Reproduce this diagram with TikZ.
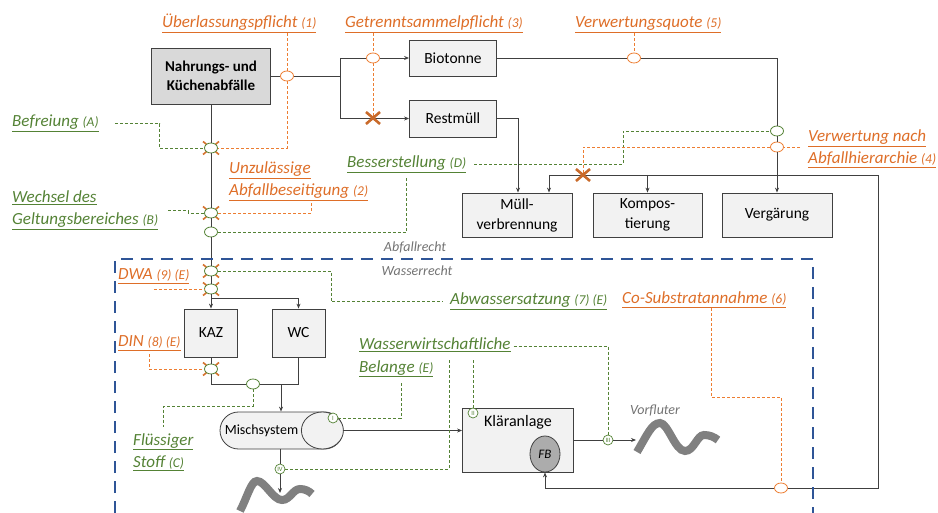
\documentclass[tikz,border=0pt]{standalone}
\usepackage{fontspec}
\setmainfont{Carlito}
\usetikzlibrary{shapes,arrows.meta,positioning,backgrounds}

\definecolor{orng}{RGB}{222,110,40}
\definecolor{orngline}{RGB}{237,125,49}
\definecolor{grn}{RGB}{84,130,53}
\definecolor{blu}{RGB}{47,85,151}
\definecolor{lin}{RGB}{64,64,64}

\newcommand{\nr}[1]{{\fontsize{13.5}{13.5}\selectfont #1}}

\tikzset{
  box/.style={draw=lin, fill=gray!10, line width=0.8pt, minimum width=87pt, minimum height=36pt, inner sep=2pt, align=center, font=\fontsize{15.5}{20}\selectfont},
  conn/.style={draw=lin, line width=0.9pt},
  arr/.style={conn, -{Stealth[length=5pt,width=4pt]}},
  grdash/.style={draw=grn, densely dashed, line width=0.7pt},
  ordash/.style={draw=orngline, densely dashed, line width=0.7pt},
  gate/.style={ellipse, draw=grn, fill=white, line width=0.8pt, minimum width=13pt, minimum height=10pt, inner sep=0pt},
  ogate/.style={gate, draw=orngline},
  xtick/.style={draw=orngline!90!black, line width=1.6pt},
  bigx/.style={draw=orngline!85!black, line width=2.6pt},
  rom/.style={ellipse, draw=grn, fill=white, text=grn, line width=0.7pt, inner sep=0.8pt, minimum size=10pt, font=\fontsize{6.5}{6.5}\selectfont},
  lab/.style={inner sep=0pt, align=left, font=\fontsize{17}{22}\selectfont\itshape},
  orlab/.style={lab, text=orng},
  grlab/.style={lab, text=grn},
  rechtlab/.style={inner sep=0pt, text=black!55, font=\fontsize{14}{14}\selectfont\itshape},
  wave/.style={draw=gray, line width=8pt},
}

\begin{document}
\begin{tikzpicture}[x=1pt, y=-1pt]
  \useasboundingbox (0,0) rectangle (938,513);

  % Boxes
  \node[box, fill=gray!30, font=\fontsize{15}{19}\selectfont\bfseries, minimum width=119pt, minimum height=56pt] (food) at (211,76) {Nahrungs- und\\Küchenabfälle};
  \node[box] (bio) at (453,58) {Biotonne};
  \node[box, minimum height=37pt] (rest) at (453,118.5) {Restmüll};
  \node[box, minimum width=110pt, minimum height=44pt] (mva) at (517,215) {Müll-\\verbrennung};
  \node[box, minimum width=109pt, minimum height=44pt] (kompost) at (647.5,215) {Kompos-\\tierung};
  \node[box, minimum width=110pt, minimum height=44pt] (vergaer) at (777,215) {Vergärung};
  \node[box, minimum width=53pt, minimum height=48pt] (kaz) at (211,333) {KAZ};
  \node[box, minimum width=53pt, minimum height=48pt] (wc) at (298.5,333) {WC};
  \node[rounded rectangle, draw=lin, fill=gray!10, line width=0.8pt, minimum width=123pt, minimum height=37pt, inner sep=0pt,
        label={[xshift=-20pt, font=\fontsize{14}{14}\selectfont]center:Mischsystem}] (misch) at (281.5,430.5) {};
  \draw[draw=lin, fill=gray!10, line width=0.8pt] ([xshift=-21pt]misch.east) ellipse [x radius=21pt, y radius=18.5pt];
  \node[box, minimum width=111pt, minimum height=64pt, label={[anchor=north, yshift=-4pt, font=\fontsize{16}{16}\selectfont]north:Kläranlage}] (klaer) at (518,440) {};
  \node[ellipse, draw=lin, fill=gray!65, line width=0.8pt, minimum width=30pt, minimum height=36pt, inner sep=0pt, font=\fontsize{13}{13}\selectfont\itshape] (fb) at (545,454) {FB};

  % Gates
  \node[gate] (g1) at (211,148) {};
  \node[gate] (g2) at (211,213) {};
  \node[gate] (g3) at (211,232) {};
  \node[gate] (g4) at (211,271) {};
  \node[gate] (g5) at (211,289) {};
  \node[gate] (g6) at (211,369) {};
  \node[gate] (gC) at (253,384) {};
  \node[gate] (gD) at (777,131) {};
  \node[ogate] (ol1) at (287,76) {};
  \node[ogate] (ol3) at (373,58) {};
  \node[ogate] (ol5) at (634,58) {};
  \node[ogate] (ol4) at (777,147) {};
  \node[ogate] (ol6) at (781,488) {};
  \node[rom] (rI) at (333,418) {I};
  \node[rom] (rII) at (473,413) {II};
  \node[rom] (rIII) at (608,440) {III};
  \node[rom] (rIV) at (280,469) {IV};
  \coordinate (x3) at (373,118);
  \coordinate (x4) at (583,175);

  % Labels
  \node[orlab, anchor=base west] (l1) at (162,28) {\underline{Überlassungspflicht \nr{(1)}}};
  \node[orlab, anchor=base west] (l3) at (345,28) {\underline{Getrenntsammelpflicht \nr{(3)}}};
  \node[orlab, anchor=base west] (l5) at (575,28) {\underline{Verwertungsquote \nr{(5)}}};
  \node[grlab, anchor=base west] (lA) at (12,127) {\underline{Befreiung \nr{(A)}}};
  \node[orlab, anchor=base west] (l2) at (229,196) {\underline{Unzulässige}\\\underline{Abfallbeseitigung \nr{(2)}}};
  \node[grlab, anchor=base west] (lD) at (347,168) {\underline{Besserstellung \nr{(D)}}};
  \node[grlab, anchor=base west] (lB) at (12,225) {\underline{Wechsel des}\\\underline{Geltungsbereiches \nr{(B)}}};
  \node[orlab, anchor=base west] (l4) at (808,164) {\underline{Verwertung nach}\\\underline{Abfallhierarchie \nr{(4)}}};
  \node[rechtlab] (abf) at (415,247) {Abfallrecht};
  \node[rechtlab] (was) at (417,271) {Wasserrecht};
  \node[orlab, anchor=base west] (l9) at (118,280) {\underline{DWA \nr{(9) (E)}}};
  \node[grlab, anchor=base west] (l7) at (450,305) {\underline{Abwassersatzung \nr{(7) (E)}}};
  \node[orlab, anchor=base west] (l6) at (622,304) {\underline{Co-Substratannahme \nr{(6)}}};
  \node[orlab, anchor=base west] (l8) at (118,347) {\underline{DIN \nr{(8) (E)}}};
  \node[grlab, anchor=base west] (lE) at (359,372) {\underline{Wasserwirtschaftliche}\\\underline{Belange \nr{(E)}}};
  \node[grlab, anchor=base west] (lC) at (133,467) {\underline{Flüssiger}\\\underline{Stoff \nr{(C)}}};
  \node[rechtlab] (vf) at (655,411) {Vorfluter};

  % Waste flow
  \coordinate (split) at (340,76);
  \draw[conn] (food) -- (ol1) -- (split);
  \draw[conn] (split |- bio) -- (split |- rest);
  \draw[conn] (split |- bio) -- (ol3);
  \draw[arr] (ol3) -- (bio);
  \draw[arr] (split |- rest) -- (rest);
  \draw[conn] (bio) -- (ol5);
  \draw[conn] (ol5) -- (ol5 -| vergaer) -- (gD);
  \draw[conn] (gD) -- (ol4);
  \draw[arr] (ol4) -- (vergaer);
  \draw[arr] (rest.east) -| ([xshift=1pt]mva.north);
  \coordinate (mvain) at (549,175);
  \coordinate (ret) at (878,175);
  \coordinate (retlo) at (878,488);
  \draw[arr] (mvain) -- (mvain |- mva.north);
  \draw[arr] (kompost.north |- mvain) -- (kompost.north);
  \draw[conn] (mvain) -- (ret) -- (retlo) -- (ol6);
  \draw[arr] (ol6) -| (fb.south);

  % Water flow
  \draw[conn] (food) -- (g1) -- (g2) -- (g3) -- (g4) -- (g5);
  \coordinate (kazsplit) at (211,298);
  \draw[arr] (g5) -- (kaz);
  \draw[arr] (kazsplit) -| (wc);
  \draw[conn] (kaz) -- (g6);
  \draw[conn] (g6) |- (gC);
  \draw[conn] (gC) -| (wc);
  \coordinate (merge) at (281,384);
  \draw[arr] (merge) -- (merge |- misch.north);
  \draw[conn] (misch.south -| rIV) -- (rIV);
  \coordinate (river) at (280,493);
  \draw[arr] (rIV) -- (river);
  \draw[arr] (misch.east) -- (misch.east -| klaer.west);
  \draw[conn] (klaer.east |- rIII) -- (rIII);
  \coordinate (vorfl) at (636,440);
  \draw[arr] (rIII) -- (vorfl);

  % Legal links
  \coordinate (dbend) at (623,131);
  \coordinate (b7) at (331,271);
  \coordinate (cturn) at (253,406);
  \coordinate (eI) at (401,381);
  \coordinate (eII) at (473,358);
  \coordinate (eIV) at (449,358);
  \coordinate (b6) at (711,397);
  \draw[ordash] (l1.south -| ol1) -- (ol1);
  \draw[ordash] (ol1) |- (g1);
  \draw[grdash] ([xshift=16pt]lA.east) -- ++(45,0) |- (g1);
  \draw[ordash] (l3.south -| ol3) -- (ol3);
  \draw[ordash] (ol3) -- (x3);
  \draw[ordash] (l5.south -| ol5) -- (ol5);
  \draw[ordash] ([xshift=12.5pt,yshift=-2pt]l2.south) |- (g2);
  \draw[grdash] ([xshift=10pt]lB.east) -- ++(20,0) |- (g2);
  \draw[grdash] (g3) -| ([yshift=-3pt]lD.south);
  \draw[grdash] ([xshift=8pt]lD.east) -| (dbend) -- (gD);
  \draw[ordash] ([xshift=-8pt]l4.west |- ol4) -- (ol4);
  \draw[ordash] (ol4) -| (x4);
  \draw[grdash] (g4) -- (b7) |- ([xshift=-7pt]l7.west);
  \draw[ordash] (l9.south |- g5) -- (g5);
  \draw[ordash] ([yshift=-3pt]l8.south) |- (g6);
  \draw[grdash] (gC) -- (cturn) -| ([yshift=6pt]lC.north);
  \draw[grdash] (rI) -| (eI);
  \draw[grdash] (rII) -- (eII);
  \draw[grdash] (rIV) -| (eIV);
  \draw[grdash] ([xshift=3pt,yshift=-8pt]lE.north east) -| (rIII);
  \draw[ordash] (b6 |- l6.south) -- (b6) -| (ol6);

  % Crossed gates
  \begin{scope}[on background layer]
    \foreach \g in {g1,g2,g4,g5,g6} {
      \draw[xtick] ([shift={(-8,-6.5)}]\g.center) -- ([shift={(8,6.5)}]\g.center);
      \draw[xtick] ([shift={(-8,6.5)}]\g.center) -- ([shift={(8,-6.5)}]\g.center);
    }
  \end{scope}
  \foreach \c in {x3,x4} {
    \draw[bigx] ([shift={(-7,-6)}]\c) -- ([shift={(7,6)}]\c);
    \draw[bigx] ([shift={(-7,6)}]\c) -- ([shift={(7,-6)}]\c);
  }

  % Rivers
  \draw[wave] (637,452) .. controls (647,435) and (652,423) .. (660,423)
    .. controls (668,423) and (675,451) .. (685,451)
    .. controls (694,451) and (697,435) .. (704,435)
    .. controls (710,435) and (714,437) .. (718,440);
  \draw[wave] (240,511) .. controls (247,498) and (251,481) .. (257,481)
    .. controls (265,481) and (273,500) .. (282,500)
    .. controls (290,500) and (293,489) .. (300,489)
    .. controls (305,489) and (309,491) .. (312,494);

  % Abfallrecht / Wasserrecht
  \draw[blu, line width=2.6pt, dash pattern=on 12pt off 8pt] (115,513) -- (115,259) -- (813,259) -- (813,513);
\end{tikzpicture}
\end{document}
